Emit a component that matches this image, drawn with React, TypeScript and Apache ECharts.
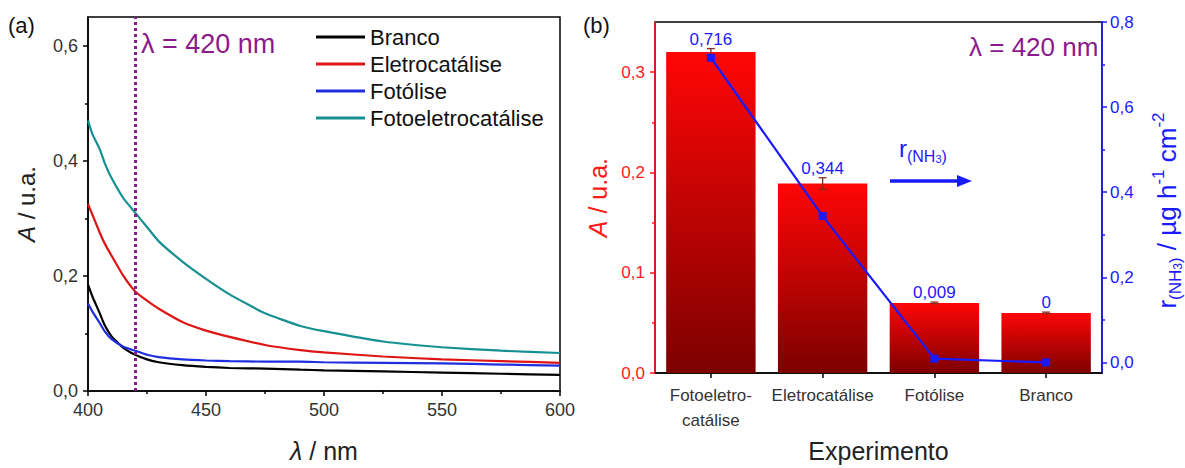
import React, { useEffect, useRef } from "react";
import * as echarts from "echarts";

// ---------- Panel (a) data ----------
const wavelengths = [400, 402, 405, 407, 410, 415, 420, 425, 430, 440, 450, 460, 475, 490, 500, 525, 550, 575, 600];
const branco = [0.185, 0.163, 0.135, 0.115, 0.095, 0.075, 0.063, 0.055, 0.05, 0.045, 0.042, 0.04, 0.039, 0.037, 0.036, 0.034, 0.032, 0.03, 0.028];
const eletro = [0.325, 0.305, 0.275, 0.257, 0.235, 0.2, 0.173, 0.157, 0.143, 0.12, 0.105, 0.094, 0.08, 0.071, 0.067, 0.06, 0.055, 0.052, 0.049];
const fotolise = [0.152, 0.137, 0.118, 0.104, 0.09, 0.077, 0.07, 0.063, 0.059, 0.055, 0.053, 0.052, 0.051, 0.051, 0.05, 0.049, 0.048, 0.046, 0.044];
const fotoeletro = [0.47, 0.445, 0.42, 0.397, 0.37, 0.335, 0.31, 0.285, 0.26, 0.225, 0.195, 0.168, 0.135, 0.113, 0.104, 0.086, 0.076, 0.07, 0.066];
const seriesNamesA = ["Branco", "Eletrocatálise", "Fotólise", "Fotoeletrocatálise"];
const yTicksA = [0, 0.2, 0.4, 0.6];
const yMinorA = [0.1, 0.3, 0.5];

// ---------- Panel (b) data ----------
const categoriesB = ["Fotoeletro-\ncatálise", "Eletrocatálise", "Fotólise", "Branco"];
const absorbanceB = [0.32, 0.189, 0.07, 0.06];
const absorbanceErr = [0.0035, 0.0057, 0.0008, 0.0008];
const rateB = [0.716, 0.344, 0.009, 0];
const yTicksBLeft = [0, 0.1, 0.2, 0.3];
const yMinorBLeft = [0.05, 0.15, 0.25];
const yTicksBRight = [0, 0.2, 0.4, 0.6, 0.8];
const yMinorBRight = [0.1, 0.3, 0.5, 0.7];

const FONT = "'Liberation Sans', Arial, sans-serif";
const PURPLE = "#8b1a8b";
const BLUE = "#1a1aff";
const RED = "#ff1a1a";
const comma = (v: number) => String(v).replace(".", ",");
const fmt1 = (v: number) => v.toFixed(1).replace(".", ",");

export default function App() {
  const ref = useRef<HTMLDivElement>(null);
  useEffect(() => {
    if (!ref.current) return;
    const chart = echarts.init(ref.current, null, { renderer: "svg" });
    const lineColors = ["#000000", "#dd1515", "#1f2fdd", "#169090"];
    const lineData = [branco, eletro, fotolise, fotoeletro];

    const barGradient = new echarts.graphic.LinearGradient(0, 0, 0, 1, [
      { offset: 0, color: "#ff0606" },
      { offset: 1, color: "#7d0000" },
    ]);

    const minorAxis = (gridIndex: number, position: string, min: number, max: number, values: number[], color: string) => ({
      gridIndex,
      type: "value",
      position,
      min,
      max,
      axisLine: { show: false },
      axisTick: { show: true, length: 3, customValues: values, lineStyle: { color, width: 1.5 } },
      axisLabel: { show: false },
      splitLine: { show: false },
    });

    const option: any = {
      animation: false,
      textStyle: { fontFamily: FONT },
      grid: [
        { left: 88, top: 17, width: 472, height: 381, show: true, borderColor: "#000", borderWidth: 1.5 },
        { left: 655, top: 22, width: 454, height: 366, show: true, borderColor: "#000", borderWidth: 1.5 },
      ],
      legend: {
        orient: "vertical",
        left: 316,
        top: 26,
        padding: 0,
        itemWidth: 49,
        itemHeight: 3,
        itemGap: 5,
        icon: "rect",
        data: seriesNamesA,
        textStyle: { fontSize: 22, color: "#111", fontFamily: FONT },
      },
      xAxis: [
        {
          gridIndex: 0,
          type: "value",
          min: 400,
          max: 600,
          interval: 50,
          axisLine: { show: true, lineStyle: { color: "#000", width: 1.5 } },
          axisTick: { show: true, inside: false, length: 5, lineStyle: { color: "#000", width: 1.5 } },
          minorTick: { show: true, splitNumber: 2, length: 3, lineStyle: { color: "#000", width: 1.5 } },
          splitLine: { show: false },
          axisLabel: { fontSize: 18, color: "#333", margin: 10, fontFamily: FONT },
          name: "{i|λ} / nm",
          nameLocation: "middle",
          nameGap: 47,
          nameTextStyle: {
            fontSize: 25,
            color: "#222",
            fontFamily: FONT,
            rich: { i: { fontSize: 25, fontStyle: "italic", color: "#222", fontFamily: FONT } },
          },
        },
        {
          gridIndex: 1,
          type: "category",
          data: categoriesB,
          axisLine: { show: true, lineStyle: { color: "#000", width: 1.5 } },
          axisTick: { show: true, alignWithLabel: true, length: 5, lineStyle: { color: "#000", width: 1.5 } },
          axisLabel: { fontSize: 17, color: "#333", margin: 10, lineHeight: 25, fontFamily: FONT, interval: 0 },
          name: "Experimento",
          nameLocation: "middle",
          nameGap: 59,
          nameTextStyle: { fontSize: 25, color: "#222", fontFamily: FONT },
        },
      ],
      yAxis: [
        {
          gridIndex: 0,
          type: "value",
          position: "left",
          min: 0,
          max: 0.65,
          axisLine: { show: true, lineStyle: { color: "#000", width: 1.5 } },
          axisTick: { show: true, length: 5, customValues: yTicksA, lineStyle: { color: "#000", width: 1.5 } },
          axisLabel: { fontSize: 18, color: "#333", margin: 10, customValues: yTicksA, formatter: fmt1, fontFamily: FONT },
          splitLine: { show: false },
          name: "{i|A} / u.a.",
          nameLocation: "middle",
          nameRotate: 90,
          nameGap: 50,
          nameTextStyle: {
            fontSize: 24,
            color: "#222",
            fontFamily: FONT,
            rich: { i: { fontSize: 24, fontStyle: "italic", color: "#222", fontFamily: FONT } },
          },
        },
        minorAxis(0, "left", 0, 0.65, yMinorA, "#000"),
        {
          gridIndex: 1,
          type: "value",
          position: "left",
          min: 0,
          max: 0.35,
          axisLine: { show: true, lineStyle: { color: RED, width: 1.5 } },
          axisTick: { show: true, length: 5, customValues: yTicksBLeft, lineStyle: { color: RED, width: 1.5 } },
          axisLabel: { fontSize: 17, color: RED, margin: 10, customValues: yTicksBLeft, formatter: fmt1, fontFamily: FONT },
          splitLine: { show: false },
          name: "{i|A} / u.a.",
          nameLocation: "middle",
          nameRotate: 90,
          nameGap: 45,
          nameTextStyle: {
            fontSize: 25,
            color: RED,
            fontFamily: FONT,
            rich: { i: { fontSize: 25, fontStyle: "italic", color: RED, fontFamily: FONT } },
          },
        },
        minorAxis(1, "left", 0, 0.35, yMinorBLeft, RED),
        {
          gridIndex: 1,
          type: "value",
          position: "right",
          min: -0.025,
          max: 0.8,
          axisLine: { show: true, lineStyle: { color: BLUE, width: 1.5 } },
          axisTick: { show: true, length: 5, customValues: yTicksBRight, lineStyle: { color: BLUE, width: 1.5 } },
          axisLabel: { fontSize: 17, color: BLUE, margin: 8, customValues: yTicksBRight, formatter: fmt1, fontFamily: FONT },
          splitLine: { show: false },
          name: "{m|r}{s|(NH}{ss|3}{s|)}{m| / µg h}{p|-1}{m| cm}{p|-2}",
          nameLocation: "middle",
          nameRotate: 90,
          nameGap: 48,
          nameTextStyle: {
            color: BLUE,
            fontFamily: FONT,
            padding: [0, 26, 0, 0],
            rich: {
              m: { fontSize: 26, lineHeight: 34, verticalAlign: "middle", color: BLUE, fontFamily: FONT },
              s: { fontSize: 17, lineHeight: 17, verticalAlign: "bottom", color: BLUE, fontFamily: FONT },
              ss: { fontSize: 12, lineHeight: 9, verticalAlign: "bottom", color: BLUE, fontFamily: FONT },
              p: { fontSize: 17, lineHeight: 17, verticalAlign: "top", color: BLUE, fontFamily: FONT },
            },
          },
        },
        minorAxis(1, "right", -0.025, 0.8, yMinorBRight, BLUE),
      ],
      series: [
        ...seriesNamesA.map((name, k) => ({
          name,
          type: "line",
          xAxisIndex: 0,
          yAxisIndex: 0,
          data: wavelengths.map((w, i) => [w, lineData[k][i]]),
          showSymbol: false,
          smooth: 0.15,
          lineStyle: { color: lineColors[k], width: 2.2 },
          itemStyle: { color: lineColors[k] },
          z: 3,
          ...(k === 0
            ? {
                markLine: {
                  silent: true,
                  symbol: ["none", "none"],
                  label: { show: false },
                  lineStyle: { color: PURPLE, width: 3, type: [3, 3] },
                  data: [{ xAxis: 420 }],
                },
              }
            : {}),
        })),
        {
          name: "Absorbância",
          type: "bar",
          xAxisIndex: 1,
          yAxisIndex: 2,
          data: absorbanceB,
          barWidth: "80%",
          itemStyle: { color: barGradient },
          z: 2,
        },
        {
          name: "Erro",
          type: "custom",
          xAxisIndex: 1,
          yAxisIndex: 2,
          data: absorbanceB.map((v, i) => [i, v - absorbanceErr[i], v + absorbanceErr[i]]),
          renderItem: (params: any, api: any) => {
            const lo = api.coord([api.value(0), api.value(1)]);
            const hi = api.coord([api.value(0), api.value(2)]);
            const cap = 4;
            const st = { stroke: "#8b2a1a", lineWidth: 1.3 };
            return {
              type: "group",
              children: [
                { type: "line", shape: { x1: lo[0], y1: lo[1], x2: hi[0], y2: hi[1] }, style: st },
                { type: "line", shape: { x1: lo[0] - cap, y1: lo[1], x2: lo[0] + cap, y2: lo[1] }, style: st },
                { type: "line", shape: { x1: hi[0] - cap, y1: hi[1], x2: hi[0] + cap, y2: hi[1] }, style: st },
                {
                  type: "text",
                  x: hi[0],
                  y: hi[1] - 1,
                  style: {
                    text: comma(rateB[params.dataIndex]),
                    fill: BLUE,
                    fontSize: 17,
                    fontFamily: FONT,
                    align: "center",
                    verticalAlign: "bottom",
                  },
                },
              ],
            };
          },
          z: 3,
        },
        {
          name: "r(NH3)",
          type: "line",
          xAxisIndex: 1,
          yAxisIndex: 4,
          data: rateB,
          symbol: "rect",
          symbolSize: 8,
          lineStyle: { color: BLUE, width: 2.2 },
          itemStyle: { color: BLUE },
          z: 5,
        },
      ],
      graphic: [
        { type: "text", left: 8, top: 14, style: { text: "(a)", fontSize: 22, fill: "#111", fontFamily: FONT } },
        { type: "text", left: 583, top: 14, style: { text: "(b)", fontSize: 22, fill: "#111", fontFamily: FONT } },
        { type: "text", left: 141, top: 30, style: { text: "λ = 420 nm", fontSize: 27, fill: PURPLE, fontFamily: FONT } },
        { type: "text", left: 969, top: 34, style: { text: "λ = 420 nm", fontSize: 26, fill: PURPLE, fontFamily: FONT } },
        {
          type: "text",
          left: 899,
          top: 136,
          style: {
            text: "{m|r}{s|(NH}{ss|3}{s|)}",
            fill: BLUE,
            rich: {
              m: { fontSize: 24, lineHeight: 32, verticalAlign: "middle", fill: BLUE, fontFamily: FONT },
              s: { fontSize: 16, lineHeight: 14, verticalAlign: "bottom", fill: BLUE, fontFamily: FONT },
              ss: { fontSize: 11, lineHeight: 6, verticalAlign: "bottom", fill: BLUE, fontFamily: FONT },
            },
          },
        },
        {
          type: "line",
          shape: { x1: 890, y1: 181, x2: 960, y2: 181 },
          style: { stroke: BLUE, lineWidth: 3.5 },
        },
        {
          type: "polygon",
          shape: { points: [[957, 175], [972, 181], [957, 187]] },
          style: { fill: BLUE },
        },
      ],
    };
    chart.setOption(option);
    return () => chart.dispose();
  }, []);
  return <div ref={ref} style={{ position: "fixed", left: 0, top: 0, width: 1185, height: 468, background: "#fff" }} />;
}
